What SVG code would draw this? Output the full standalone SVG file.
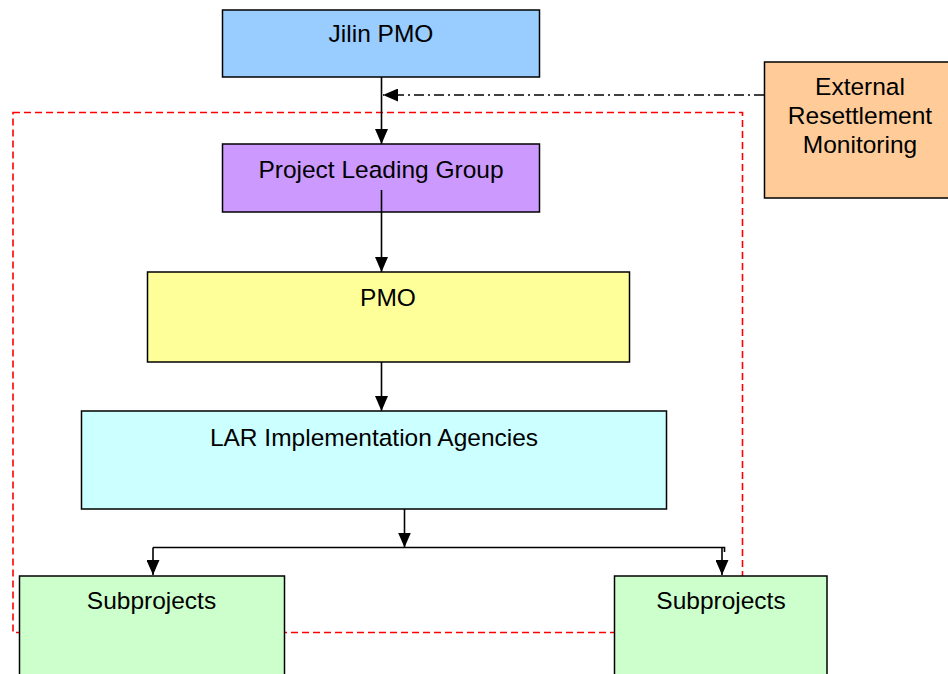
<svg xmlns="http://www.w3.org/2000/svg" width="948" height="674" viewBox="0 0 948 674">
  <style>
    .box { stroke: #000; stroke-width: 1.5; }
    .lbl { font-family: "Liberation Sans", Arial, sans-serif; font-size: 24.5px; fill: #000; text-anchor: middle; }
    .flow { stroke: #000; stroke-width: 1.6; fill: none; }
    .boundary { stroke: #ff0000; stroke-width: 1.6; fill: none; stroke-dasharray: 7 4; }
    .monitor { stroke: #000; stroke-width: 1.4; fill: none; stroke-dasharray: 10 4 2 4; }
  </style>
  <defs>
    <!-- filled triangular head, drawn along the +x direction of the line -->
    <marker id="arrow" viewBox="0 0 15 13" refX="15" refY="6.5" markerWidth="15" markerHeight="13" markerUnits="userSpaceOnUse" orient="auto">
      <path d="M0,0 L15,6.5 L0,13 Z" fill="#000"/>
    </marker>
  </defs>

  <rect width="948" height="674" fill="#fff"/>

  <!-- project boundary (dashed red) -->
  <rect class="boundary" x="13" y="112.5" width="729.5" height="520"/>

  <!-- connectors -->
  <g id="connectors">
    <line class="flow" x1="381.5" y1="77" x2="381.5" y2="144" marker-end="url(#arrow)"/>
    <line class="monitor" x1="764" y1="95" x2="383" y2="95" marker-end="url(#arrow)"/>
    <line class="flow" x1="381.5" y1="190" x2="381.5" y2="272" marker-end="url(#arrow)"/>
    <line class="flow" x1="381.5" y1="362" x2="381.5" y2="411" marker-end="url(#arrow)"/>
    <line class="flow" x1="404.5" y1="509" x2="404.5" y2="547.5" marker-end="url(#arrow)"/>
    <polyline class="flow" points="153,547.5 724.5,547.5 724.5,552"/>
    <line class="flow" x1="153" y1="547.5" x2="153" y2="575" marker-end="url(#arrow)"/>
    <line class="flow" x1="722" y1="547.5" x2="722" y2="575" marker-end="url(#arrow)"/>
  </g>

  <g id="jilin-pmo">
    <rect class="box" x="222.5" y="10" width="317" height="67" fill="#99ccff"/>
    <text class="lbl" x="381" y="42">Jilin PMO</text>
  </g>

  <g id="external-monitoring">
    <rect class="box" x="764.5" y="62" width="200" height="136" fill="#ffcc99"/>
    <text class="lbl" x="860" y="95">External</text>
    <text class="lbl" x="860" y="124">Resettlement</text>
    <text class="lbl" x="860" y="153">Monitoring</text>
  </g>

  <g id="leading-group">
    <rect class="box" x="222.5" y="144" width="317" height="68" fill="#cc99ff"/>
    <text class="lbl" x="381" y="178">Project Leading Group</text>
  </g>
  <line class="flow" x1="381.5" y1="190" x2="381.5" y2="212"/>

  <g id="pmo">
    <rect class="box" x="147.5" y="272" width="482" height="90" fill="#ffff99"/>
    <text class="lbl" x="388" y="306">PMO</text>
  </g>

  <g id="lar-agencies">
    <rect class="box" x="81.5" y="411" width="585" height="98" fill="#ccffff"/>
    <text class="lbl" x="374" y="446">LAR Implementation Agencies</text>
  </g>

  <g id="subprojects-left">
    <rect class="box" x="19.5" y="576" width="265" height="110" fill="#ccffcc"/>
    <text class="lbl" x="151.5" y="609">Subprojects</text>
  </g>

  <g id="subprojects-right">
    <rect class="box" x="614.5" y="576" width="212.5" height="110" fill="#ccffcc"/>
    <text class="lbl" x="721" y="609">Subprojects</text>
  </g>
</svg>
